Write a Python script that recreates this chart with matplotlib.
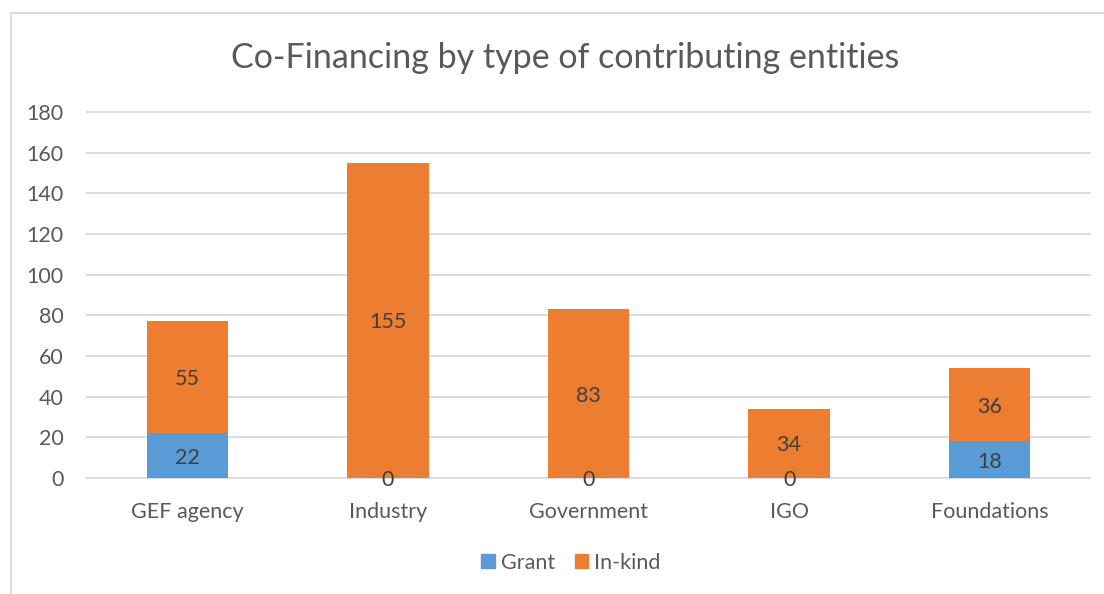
import matplotlib
matplotlib.use("Agg")
import matplotlib.pyplot as plt
from matplotlib.patches import Rectangle, Patch
from matplotlib.transforms import offset_copy

categories = ["GEF agency", "Industry", "Government", "IGO", "Foundations"]
grant = [22, 0, 0, 0, 18]
inkind = [55, 155, 83, 34, 36]
yticks = [0, 20, 40, 60, 80, 100, 120, 140, 160, 180]

plt.rcParams['font.family'] = ['Lato', 'DejaVu Sans']
TXT = '#595959'
LBL = '#404040'
BLUE = '#5B9BD5'
ORANGE = '#ED7D31'
GRID = '#D9D9D9'

fig = plt.figure(figsize=(11.04, 5.94), dpi=100)
fig.patches.append(Rectangle((11/1104, -0.1), 1.2, 1 - 13/594 + 0.1,
                             transform=fig.transFigure, fill=False,
                             edgecolor=GRID, linewidth=1.3))

ax = fig.add_axes([87/1104, 1 - 478/594, (1090 - 87)/1104, (478 - 112)/594])
x = list(range(len(categories)))
w = 0.405
ax.bar(x, grant, w, color=BLUE, label='Grant', zorder=3)
ax.bar(x, inkind, w, bottom=grant, color=ORANGE, label='In-kind', zorder=3)

tr = offset_copy(ax.transData, fig=fig, x=0, y=-2, units='dots')
for i in x:
    ax.text(i, grant[i] / 2, str(grant[i]), ha='center', va='center',
            fontsize=15.5, color=LBL, zorder=4, transform=tr)
    ax.text(i, grant[i] + inkind[i] / 2, str(inkind[i]), ha='center', va='center',
            fontsize=15.5, color=LBL, zorder=4, transform=tr)

ax.set_xlim(-0.5, len(categories) - 0.5)
ax.set_ylim(0, 180)
ax.set_yticks(yticks)
ax.set_xticks(x)
ax.set_xticklabels(categories)
ax.tick_params(axis='both', length=0, labelsize=15.5, colors=TXT)
ax.tick_params(axis='y', pad=17)
ax.tick_params(axis='x', pad=17.5)
for s in ax.spines.values():
    s.set_visible(False)
ax.grid(axis='y', color=GRID, linewidth=1.3, zorder=0)
ax.set_axisbelow(True)
for gl in ax.get_ygridlines():
    gl.set_clip_on(False)

fig.text(565/1104, 1 - 58/594, "Co-Financing by type of contributing entities",
         ha='center', va='center', fontsize=24.5, color=TXT)

handles = [Patch(color=BLUE, label='Grant'), Patch(color=ORANGE, label='In-kind')]
fig.legend(handles=handles, loc='center', bbox_to_anchor=(571/1104, 1 - 563/594),
           ncol=2, frameon=False, fontsize=15.5, labelcolor=TXT,
           handlelength=0.62, handleheight=0.62, handletextpad=0.3, columnspacing=0.9)

fig.savefig("out.png", dpi=100)
